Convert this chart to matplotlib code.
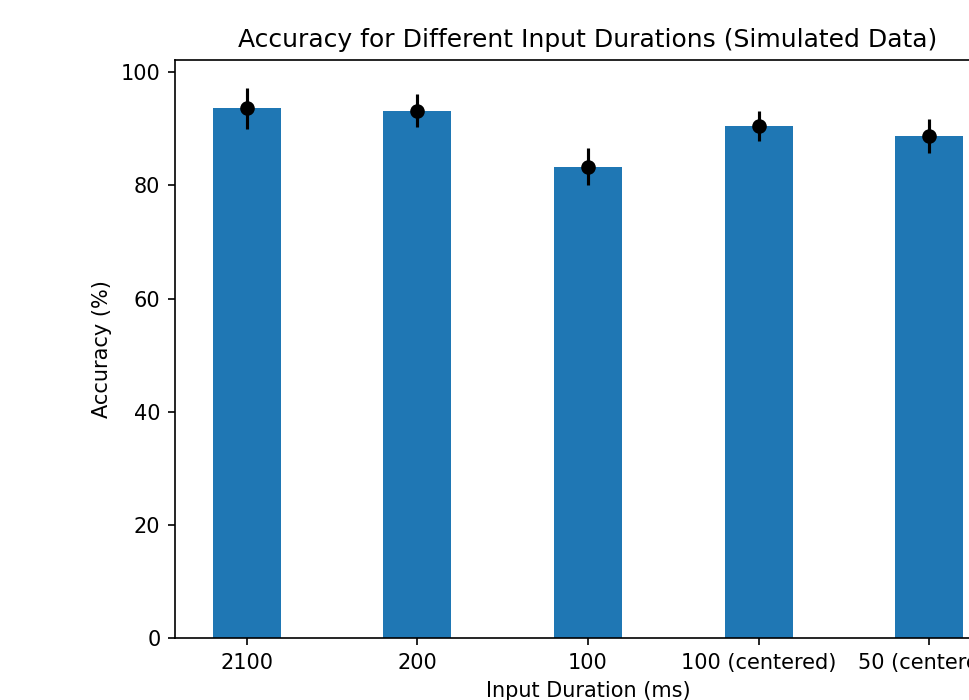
import numpy as np
import matplotlib
matplotlib.use("Agg")
import matplotlib.pyplot as plt

durations = ['2100', '200', '100', '100 (centered)', '50 (centered)']
accuracy = [93.6, 93.2, 83.3, 90.5, 88.7]
accuracy_std = [3.7, 2.9, 3.3, 2.6, 3.0]

x = np.arange(len(durations))

# reference is a crop of a wider figure, so the axes run past the right edge
fig = plt.figure(figsize=(969 / 150, 700 / 150), dpi=150)
ax = fig.add_axes([0.1806, 0.0886, 0.8524, 0.8257])

ax.bar(x, accuracy, width=0.4)
ax.errorbar(x, accuracy, yerr=accuracy_std, fmt='o', color='black')

ax.set_xticks(x)
ax.set_xticklabels(durations)
ax.set_xlabel('Input Duration (ms)')
ax.set_ylabel('Accuracy (%)')
ax.set_title('Accuracy for Different Input Durations (Simulated Data)')

fig.savefig('out.png', dpi=150)
